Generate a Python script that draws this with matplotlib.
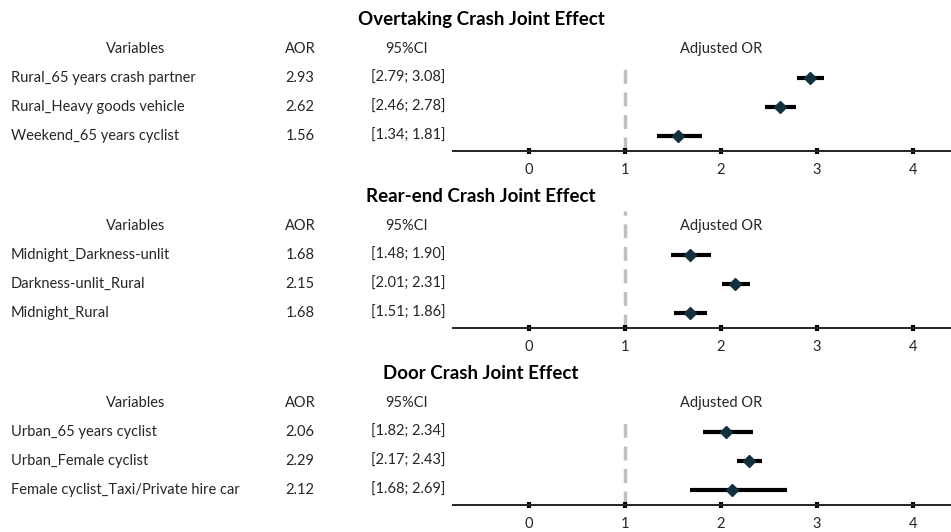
import matplotlib
matplotlib.use("Agg")
import matplotlib.pyplot as plt
import matplotlib.transforms as mtransforms

plt.rcParams['font.family'] = ['Lato', 'DejaVu Sans']

## Data
titles = ['Overtaking Crash Joint Effect',
          'Rear-end Crash Joint Effect',
          'Door Crash Joint Effect']
variables = [['Rural_65 years crash partner', 'Rural_Heavy goods vehicle', 'Weekend_65 years cyclist'],
             ['Midnight_Darkness-unlit', 'Darkness-unlit_Rural', 'Midnight_Rural'],
             ['Urban_65 years cyclist', 'Urban_Female cyclist', 'Female cyclist_Taxi/Private hire car']]
aor = [[2.93, 2.62, 1.56],
       [1.68, 2.15, 1.68],
       [2.06, 2.29, 2.12]]
ci_low = [[2.79, 2.46, 1.34],
          [1.48, 2.01, 1.51],
          [1.82, 2.17, 1.68]]
ci_high = [[3.08, 2.78, 1.81],
           [1.90, 2.31, 1.86],
           [2.34, 2.43, 2.69]]
xticks = [0, 1, 2, 3, 4]

## Layout (pixels from top of figure)
W, H = 951, 532
axis_px = [151, 328, 505]      # y of the x axis line in each panel
dash_top = [3.55, 4.5, 3.5]    # top of the reference line (row units)
row_px = 29.0
ylo, yhi = 0.48, 5.5

fig = plt.figure(figsize=(W / 100, H / 100), dpi=100, facecolor='white')
txt = '#262626'

for p in range(3):
    bottom = 1 - axis_px[p] / H
    height = (yhi - ylo) * row_px / H
    ax = fig.add_axes([453 / W, bottom, 1 - 453 / W, height])
    ax.set_xlim(-0.79, 4.4)
    ax.set_ylim(ylo, yhi)
    for s in ['top', 'left', 'right']:
        ax.spines[s].set_visible(False)
    ax.spines['bottom'].set_linewidth(1.4)
    ax.spines['bottom'].set_color('#222222')
    ax.set_yticks([])
    ax.set_xticks(xticks)
    ax.tick_params(axis='x', direction='inout', length=5, width=3,
                   color='black', labelsize=10.5, labelcolor=txt, pad=6)
    ax.patch.set_alpha(0)

    # reference line at OR = 1
    ax.plot([1, 1], [ylo, dash_top[p]], color='#bfbfbf', lw=2.5,
            ls=(0, (4, 2.5)), zorder=1)

    ys = [3, 2, 1]
    for i in range(3):
        ax.plot([ci_low[p][i], ci_high[p][i]], [ys[i], ys[i]],
                color='black', lw=3, solid_capstyle='butt', zorder=2)
        ax.plot(aor[p][i], ys[i], marker='D', ms=6, color='#12303d',
                mec='#12303d', zorder=3)

    ax.text(2, 4, 'Adjusted OR', ha='center', va='center', fontsize=10.5, color=txt)

    # left-hand table, x in figure fraction, y in data rows
    tr = mtransforms.blended_transform_factory(fig.transFigure, ax.transData)
    ax.text(481 / W, 5, titles[p], transform=tr, ha='center', va='center',
            fontsize=13.5, fontweight='bold', color='black')
    ax.text(136 / W, 4, 'Variables', transform=tr, ha='center', va='center',
            fontsize=10.5, color=txt)
    ax.text(300 / W, 4, 'AOR', transform=tr, ha='center', va='center',
            fontsize=10.5, color=txt)
    ax.text(407 / W, 4, '95%CI', transform=tr, ha='center', va='center',
            fontsize=10.5, color=txt)
    for i in range(3):
        ax.text(11 / W, ys[i], variables[p][i], transform=tr, ha='left',
                va='center', fontsize=10.5, color=txt)
        ax.text(300 / W, ys[i], '%.2f' % aor[p][i], transform=tr, ha='center',
                va='center', fontsize=10.5, color=txt)
        ax.text(408 / W, ys[i], '[%.2f; %.2f]' % (ci_low[p][i], ci_high[p][i]),
                transform=tr, ha='center', va='center', fontsize=10.5, color=txt)

fig.savefig('out.png', dpi=100, facecolor='white')
